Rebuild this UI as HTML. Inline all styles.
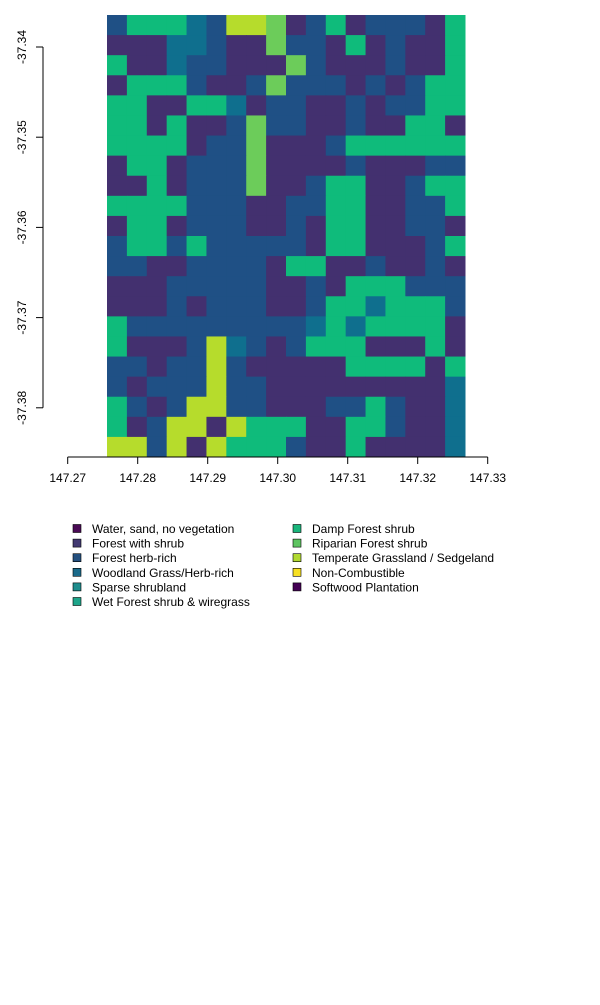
<!DOCTYPE html>
<html><head><meta charset="utf-8"><style>
body{margin:0;background:#fff;width:600px;height:1000px;overflow:hidden;font-family:"Liberation Sans",Arial,sans-serif}
svg text{font-family:"Liberation Sans",Arial,sans-serif;font-size:12px;fill:#000}
</style></head><body>
<svg id="chart" width="600" height="1000">
<g id="map"></g>
<g id="axes"></g>
<g id="legend"></g>
</svg>
<script>
const xTicks=[147.27,147.28,147.29,147.30,147.31,147.32,147.33];
const yTicks=[-37.34,-37.35,-37.36,-37.37,-37.38];
const legendLabels=["Water, sand, no vegetation","Forest with shrub","Forest herb-rich","Woodland Grass/Herb-rich","Sparse shrubland","Wet Forest shrub & wiregrass","Damp Forest  shrub","Riparian Forest shrub","Temperate Grassland / Sedgeland","Non-Combustible","Softwood Plantation"];
const legendColors=["#4a0a55","#433a72","#24507f","#1b6a8a","#1e8c8c","#1ea58a","#19b57b","#5ec461","#b1d932","#f7e023","#440154"];
const rasterRows=[
"BGGGTBYYLPBGPBBBPG",
"PPPTTBPPLBBPGPBPPG",
"GPPTBBPPPLBPPPBPPG",
"PGGGBPPBLBBBPBPBGG",
"GGPPGGTPBBPPBPBBGG",
"GGPGPPBLBBPPBPPGGP",
"GGGGPBBLPPPBGGGGGG",
"PGGPBBBLPPPPBPPPBB",
"PPGPBBBLPPBGGPPBGG",
"GGGGBBBPPBBGGPPBBG",
"PGGPBBBPPBPGGPPBBP",
"BGGBGBBBBBPGGPPPBG",
"BBPPBBBBPGGPPBPPBP",
"PPPBBBBBPPBPGGGBBB",
"PPPBPBBBPPBGGTGGGB",
"GBBBBBBBBBTGTGGGGP",
"GPPPBYTBPBGGGPPPGP",
"BBPBBYBPPPPPGGGGPG",
"BPBBBYBBPPPPPPPPPT",
"GBPBYYBBPPPBBGBPPT",
"GPBYYPYGGGPPGGBPPT",
"YYBYPYGGGBPPGPPPPT"];
const cellColors={P:"#43306f",B:"#1f5085",G:"#0fbb7b",T:"#0f6f8e",Y:"#b6dc2c",L:"#6ccc5a"};
const NS="http://www.w3.org/2000/svg";
const X0=107,X1=465,Y0=15,Y1=457;
const xs=v=>67.7+(v-147.27)*7000;
const ys=v=>47+(v+37.34)*-9020;
function mk(t,a,p){const e=document.createElementNS(NS,t);for(const k in a)e.setAttribute(k,a[k]);p.appendChild(e);return e;}
const map=document.getElementById('map');
const nr=rasterRows.length,nc=rasterRows[0].length,cw=(X1-X0)/nc,ch=(Y1-Y0)/nr;
rasterRows.forEach((row,r)=>{for(let c=0;c<nc;c++){
const el=mk('rect',{x:X0+c*cw,y:Y0+r*ch,width:cw+0.5,height:ch+0.5,fill:cellColors[row[c]]},map);


}});
const ax=document.getElementById('axes');
const xl=mk('line',{x1:xs(xTicks[0]),x2:xs(xTicks[xTicks.length-1]),y1:457,y2:457,stroke:'#000'},ax);

xTicks.forEach(v=>{
mk('line',{x1:xs(v),x2:xs(v),y1:457,y2:464,stroke:'#000'},ax);
const t=mk('text',{x:xs(v),y:482,'text-anchor':'middle'},ax);t.textContent=v.toFixed(2);

});
const yl=mk('line',{x1:43,x2:43,y1:ys(yTicks[0]),y2:ys(yTicks[yTicks.length-1]),stroke:'#000'},ax);

yTicks.forEach(v=>{
const y=ys(v);
mk('line',{x1:36,x2:43,y1:y,y2:y,stroke:'#000'},ax);
const t=mk('text',{x:26,y:y,'text-anchor':'middle',transform:`rotate(-90 26 ${y})`},ax);t.textContent=v.toFixed(2);

});
const lg=document.getElementById('legend');
legendLabels.forEach((lab,i)=>{
const col=i<6?0:1,row=i<6?i:i-6;
const x=col?293:73,y=529+row*14.6;
const g=mk('g',{},lg);


mk('rect',{x:x,y:y-4.5,width:8,height:8,fill:legendColors[i],stroke:'#000','stroke-width':0.6},g);
const t=mk('text',{x:x+19,y:y+4},g);t.textContent=lab;
});
</script>
</body></html>
